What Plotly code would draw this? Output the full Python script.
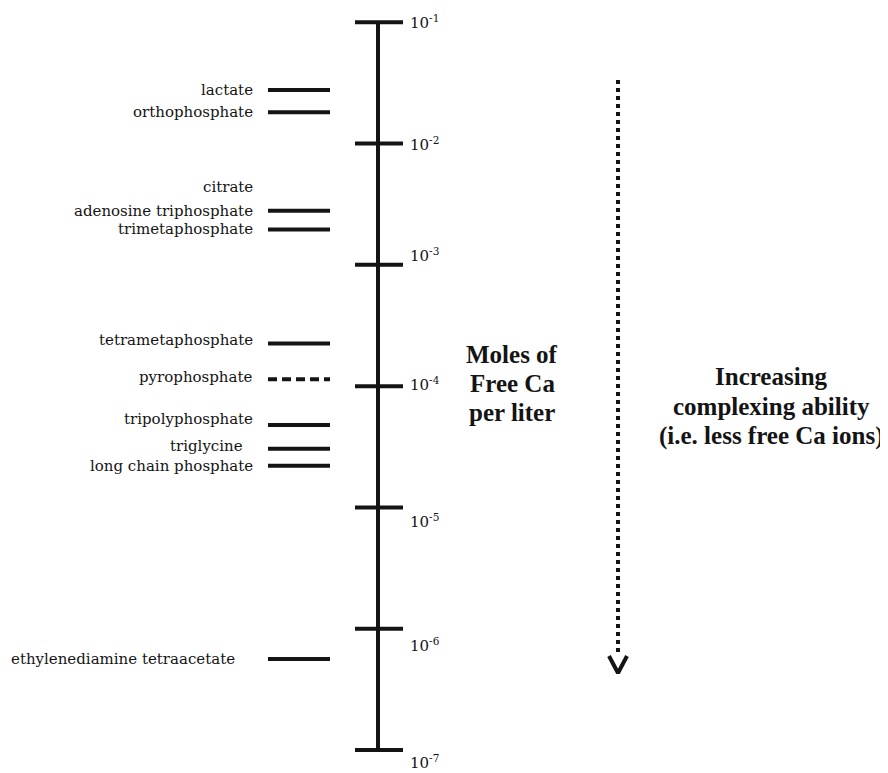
import math
import plotly.graph_objects as go

# ---- data ----
compounds = ["lactate", "orthophosphate", "citrate", "adenosine triphosphate",
             "trimetaphosphate", "tetrametaphosphate", "pyrophosphate",
             "tripolyphosphate", "triglycine", "long chain phosphate",
             "ethylenediamine tetraacetate"]
free_ca = [2.77e-2, 1.81e-2, 4.37e-3, 2.80e-3, 1.96e-3, 2.25e-4, 1.14e-4,
           4.79e-5, 3.05e-5, 2.21e-5, 5.62e-7]
line_kind = ["solid", "solid", "none", "solid", "solid", "solid", "dash",
             "solid", "solid", "solid", "solid"]
scale_ticks = [1e-1, 1e-2, 1e-3, 1e-4, 1e-5, 1e-6, 1e-7]
tick_labels = ["10<sup>-1</sup>", "10<sup>-2</sup>", "10<sup>-3</sup>", "10<sup>-4</sup>",
               "10<sup>-5</sup>", "10<sup>-6</sup>", "10<sup>-7</sup>"]
axis_title = ["Moles of", "Free Ca", "per liter"]
arrow_text = ["Increasing", "complexing ability", "(i.e. less free Ca ions)"]

# ---- styling ----
# page body has an 8px margin; axes are mapped so data x / y2 equal window pixels
OFF = 8
W, H = 888 - OFF, 773 - OFF
INK = "#141414"
AXIS_X = 378
TICK_X0, TICK_X1 = 355, 403
SEG_X0, SEG_X1 = 268, 330
LABEL_X = 255
label_dx = [0, 0, 0, 0, 0, 0, 0, 0, -10, 0, -18]
label_dy = [0, 0, 0, 0, 0, 3, 2, 6, 3, 0, 0]
tick_dy = [0, 0, 10, 2, -14, -16, -12]
PX_PER_DECADE = 121.28
TOP_PX = 22.3  # window pixel of 1e-1
ylog_top = -1 + (TOP_PX - OFF) / PX_PER_DECADE
ylog_bot = -1 - (773 - TOP_PX) / PX_PER_DECADE

fig = go.Figure()

fig.add_trace(go.Scatter(x=[AXIS_X, AXIS_X], y=[min(scale_ticks), max(scale_ticks)],
                         mode="lines", line=dict(color=INK, width=4),
                         hoverinfo="skip", showlegend=False))
tx, ty = [], []
for t in scale_ticks:
    tx += [TICK_X0, TICK_X1, None]
    ty += [t, t, None]
fig.add_trace(go.Scatter(x=tx, y=ty, mode="lines", line=dict(color=INK, width=4),
                         hoverinfo="skip", showlegend=False))

sx, sy, dx_, dy_ = [], [], [], []
for v, k in zip(free_ca, line_kind):
    if k == "solid":
        sx += [SEG_X0, SEG_X1, None]; sy += [v, v, None]
    elif k == "dash":
        dx_ += [SEG_X0, SEG_X1, None]; dy_ += [v, v, None]
fig.add_trace(go.Scatter(x=sx, y=sy, mode="lines", line=dict(color=INK, width=4),
                         hoverinfo="skip", showlegend=False))
fig.add_trace(go.Scatter(x=dx_, y=dy_, mode="lines",
                         line=dict(color=INK, width=4, dash="9px,5px"),
                         hoverinfo="skip", showlegend=False))

ann = []
for name, v, ddx, ddy in zip(compounds, free_ca, label_dx, label_dy):
    ann.append(dict(x=LABEL_X + ddx, y=math.log10(v), xref="x", yref="y", text=name,
                    showarrow=False, xanchor="right", yanchor="middle", yshift=ddy,
                    font=dict(family="DejaVu Serif", size=15, color=INK)))
for t, lab, dy in zip(scale_ticks, tick_labels, tick_dy):
    ann.append(dict(x=408, y=math.log10(t), xref="x", yref="y", text=lab,
                    showarrow=False, xanchor="left", yanchor="middle", yshift=dy,
                    font=dict(family="DejaVu Serif", size=15, color=INK)))

title_font = dict(family="Liberation Serif", size=25, color=INK)
for i, line in enumerate(axis_title):
    ann.append(dict(x=512, y=354 + 29 * i, xref="x", yref="y2", text="<b>%s</b>" % line,
                    showarrow=False, xanchor="center", yanchor="middle", font=title_font))
for i, line in enumerate(arrow_text):
    ann.append(dict(x=771, y=376 + 30 * i, xref="x", yref="y2", text="<b>%s</b>" % line,
                    showarrow=False, xanchor="center", yanchor="middle", font=title_font))

fig.add_trace(go.Scatter(x=[618, 618], y=[80, 652], yaxis="y2", mode="lines",
                         line=dict(color=INK, width=4, dash="4px,4px"),
                         hoverinfo="skip", showlegend=False))
fig.add_trace(go.Scatter(x=[609, 618, 627], y=[656, 673, 656], yaxis="y2", mode="lines",
                         line=dict(color=INK, width=4),
                         hoverinfo="skip", showlegend=False))

fig.update_layout(
    width=W, height=H, margin=dict(l=0, r=0, t=0, b=0),
    paper_bgcolor="white", plot_bgcolor="white",
    xaxis=dict(range=[OFF, 888], visible=False, fixedrange=True),
    yaxis=dict(type="log", range=[ylog_bot, ylog_top], visible=False, fixedrange=True),
    yaxis2=dict(range=[773, OFF], overlaying="y", visible=False, fixedrange=True),
    annotations=ann,
)
fig.write_html("out.html")
